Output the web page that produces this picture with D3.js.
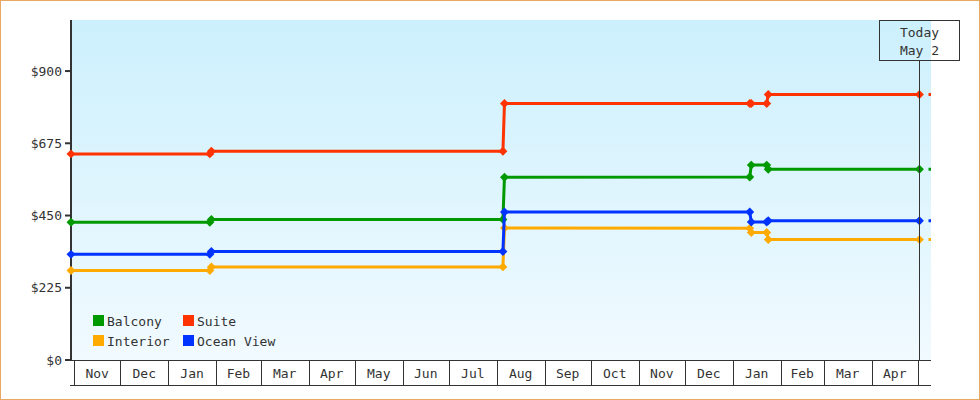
<!DOCTYPE html>
<html><head><meta charset="utf-8">
<script src="https://cdn.jsdelivr.net/npm/d3@7"></script>
<style>body{margin:0;background:#fff}svg{display:block}text{font-family:"DejaVu Sans Mono",monospace;font-size:13px;fill:#333}</style>
</head><body><svg id="c" width="980" height="400"></svg>
<script>
// ---- data ----
const dates = ["2011-10-30","2012-01-28","2012-01-29","2012-08-05","2012-08-06","2013-01-12","2013-01-13","2013-01-23","2013-01-24","2013-05-02"];
const balcony   = [429,429,438,438,569,570,607,607,594,594];
const interior  = [279,279,290,290,411,410,397,397,375,375];
const oceanView = [329,329,338,338,461,461,430,430,434,434];
const suite     = [642,642,650,650,799,799,799,799,827,827];
const seriesNames = ["Balcony","Suite","Interior","Ocean View"];
const seriesColors = ["#009900","#ff3300","#ffaa00","#0033ff"];
const yTicks = [0,225,450,675,900];
const todayDate = "2013-05-02";
const domainStart = "2011-10-30T00:00", domainEnd = "2013-05-09T12:00";
const yMax = 1059;

const parse = s => new Date(s.length===10 ? s+"T00:00" : s);
const svg = d3.select("#c");
const W=980,H=400, L=71, R=931, T=20, B=360;
const x = d3.scaleTime().domain([parse(domainStart),parse(domainEnd)]).range([L,R]);
const y = d3.scaleLinear().domain([0,yMax]).range([B,T]);

// border
svg.append("rect").attr("x",0.5).attr("y",0.5).attr("width",W-1).attr("height",H-1).attr("fill","#fff").attr("stroke","#e9a862");

// gradient background
const defs = svg.append("defs");
const g = defs.append("linearGradient").attr("id","bg").attr("x1",0).attr("y1",0).attr("x2",0).attr("y2",1);
g.append("stop").attr("offset",0).attr("stop-color","#ccf0fd");
g.append("stop").attr("offset",1).attr("stop-color","#f1faff");
svg.append("rect").attr("x",L).attr("y",T).attr("width",R-L).attr("height",B-T).attr("fill","url(#bg)");

// month axis
const months = d3.timeMonth.range(d3.timeMonth.ceil(x.domain()[0]), x.domain()[1]);
const ax = svg.append("g");
ax.append("line").attr("x1",L-1).attr("x2",R).attr("y1",B+0.5).attr("y2",B+0.5).attr("stroke","#333");
ax.append("line").attr("x1",L-1).attr("x2",R).attr("y1",385.5).attr("y2",385.5).attr("stroke","#333");
ax.selectAll("line.m").data(months).join("line").attr("class","m")
  .attr("x1",d=>Math.round(x(d))+0.5).attr("x2",d=>Math.round(x(d))+0.5)
  .attr("y1",B).attr("y2",385).attr("stroke","#333");
ax.selectAll("text").data(months.filter(d=>d3.timeMonth.offset(d,1)<=x.domain()[1])).join("text")
  .attr("x",d=>(x(d)+x(d3.timeMonth.offset(d,1)))/2).attr("y",377.5).attr("text-anchor","middle")
  .text(d3.timeFormat("%b"));

// y axis
const ya = svg.append("g");
ya.append("line").attr("x1",71).attr("x2",71).attr("y1",T).attr("y2",B+1).attr("stroke","#333").attr("stroke-width",2);
ya.selectAll("line.t").data(yTicks).join("line").attr("class","t")
  .attr("x1",65).attr("x2",71).attr("y1",d=>y(d)).attr("y2",d=>y(d)).attr("stroke","#333").attr("stroke-width",2);
ya.selectAll("text").data(yTicks).join("text")
  .attr("x",62).attr("y",d=>y(d)+4.5).attr("text-anchor","end").text(d=>"$"+d);

// series
const values = [balcony, suite, interior, oceanView];
const drawOrder = [0,2,3,1];
const line = d3.line().x(d=>x(d[0])).y(d=>y(d[1]));
const sym = d3.symbol(d3.symbolSquare, 40);
const endDate = parse(domainEnd), tDate = parse(todayDate);
drawOrder.forEach(i=>{
  const pts = dates.map((d,k)=>[parse(d), values[i][k]]);
  const gg = svg.append("g");
  gg.append("path").attr("d",line(pts)).attr("fill","none").attr("stroke",seriesColors[i]).attr("stroke-width",3);
  const last = pts[pts.length-1][1];
  const ext = x(endDate)-x(tDate);
  gg.append("path").attr("d",line([[tDate,last],[endDate,last]])).attr("fill","none")
    .attr("stroke",seriesColors[i]).attr("stroke-width",3)
    .attr("stroke-dasharray",`0 ${ext-2.5} 3 100`);
  gg.selectAll("path.pt").data(pts).join("path").attr("class","pt")
    .attr("d",sym).attr("fill",seriesColors[i])
    .attr("transform",d=>`translate(${x(d[0])},${y(d[1])}) rotate(45)`);
});

// today marker
const tx = Math.round(x(tDate))+0.5;
svg.append("line").attr("x1",tx).attr("x2",tx).attr("y1",60).attr("y2",B).attr("stroke","#333");
svg.append("rect").attr("x",tx-40).attr("y",20.5).attr("width",80).attr("height",40).attr("fill","none").attr("stroke","#333");
svg.append("text").attr("x",tx).attr("y",37).attr("text-anchor","middle").text("Today");
svg.append("text").attr("x",tx).attr("y",55).attr("text-anchor","middle").text(d3.timeFormat("%b %-d")(tDate));

// legend
const leg = svg.append("g");
seriesNames.forEach((n,i)=>{
  const col=i%2, row=Math.floor(i/2);
  const lx = 93+col*90, ly = 315+row*20;
  leg.append("rect").attr("x",lx).attr("y",ly).attr("width",11).attr("height",11).attr("fill",seriesColors[i]);
  leg.append("text").attr("x",lx+14).attr("y",ly+10.5).text(n);
});
</script></body></html>
